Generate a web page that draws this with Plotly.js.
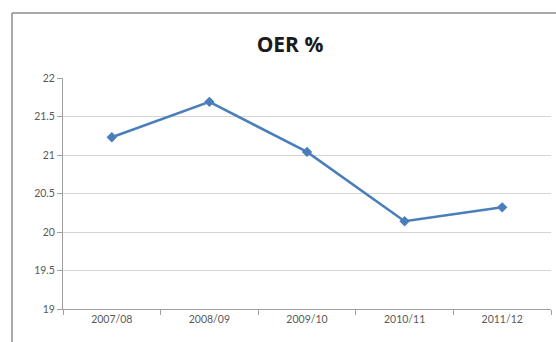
<!DOCTYPE html>
<html>
<head>
<meta charset="utf-8">
<script src="https://cdn.plot.ly/plotly-3.0.1.min.js"></script>
<style>
html,body{margin:0;padding:0;background:#fff;overflow:hidden;}
#chart{width:556px;height:342px;}
</style>
</head>
<body>
<div id="chart"></div>
<script>
const categories = ["2007/08", "2008/09", "2009/10", "2010/11", "2011/12"];
const oerValues = [21.23, 21.69, 21.04, 20.14, 20.32];
const yTickValues = [19, 19.5, 20, 20.5, 21, 21.5, 22];
const yTickLabels = ["19", "19.5", "20", "20.5", "21", "21.5", "22"];

const trace = {
  x: categories,
  y: oerValues,
  type: "scatter",
  mode: "lines+markers",
  line: {color: "#4a7ebb", width: 2.5},
  marker: {symbol: "diamond", size: 8, color: "#4a7ebb"},
  hoverinfo: "skip"
};

const borderTopY = (309 - 13) / 231;
const borderLeftX = -51 / 488;

const layout = {
  width: 556,
  height: 342,
  margin: {l: 63, r: 5, t: 78, b: 33},
  paper_bgcolor: "#ffffff",
  plot_bgcolor: "#ffffff",
  showlegend: false,
  font: {family: "Lato, 'Open Sans', sans-serif", color: "#595959", size: 10},
  title: {
    text: "<b>OER %</b>",
    font: {family: "'Open Sans', Lato, sans-serif", size: 21, color: "#1a1a1a"},
    x: 290 / 556, xref: "container", xanchor: "center",
    y: 1 - 45 / 342, yref: "container", yanchor: "middle"
  },
  xaxis: {
    type: "category",
    tickson: "boundaries",
    ticks: "outside",
    ticklen: 5,
    tickcolor: "#a0a0a0",
    showline: true,
    linecolor: "#a0a0a0",
    linewidth: 1,
    showgrid: false,
    zeroline: false,
    range: [-0.5, 4.5],
    tickfont: {size: 10.5, color: "#595959"}
  },
  yaxis: {
    range: [19, 22],
    tickvals: yTickValues,
    ticktext: yTickLabels,
    ticks: "outside",
    ticklen: 5,
    tickcolor: "#a0a0a0",
    showline: true,
    linecolor: "#a0a0a0",
    linewidth: 1,
    showgrid: true,
    gridcolor: "#d4d4d4",
    gridwidth: 1,
    zeroline: false,
    tickfont: {size: 10.5, color: "#595959"}
  },
  shapes: [
    {type: "line", xref: "paper", yref: "paper",
     x0: borderLeftX, x1: (556 - 63) / 488, y0: borderTopY, y1: borderTopY,
     line: {color: "#8c8c8c", width: 1.5}},
    {type: "line", xref: "paper", yref: "paper",
     x0: borderLeftX, x1: borderLeftX, y0: -33 / 231, y1: borderTopY,
     line: {color: "#8c8c8c", width: 1.5}}
  ]
};

Plotly.newPlot("chart", [trace], layout, {displayModeBar: false, staticPlot: true});
</script>
</body>
</html>
